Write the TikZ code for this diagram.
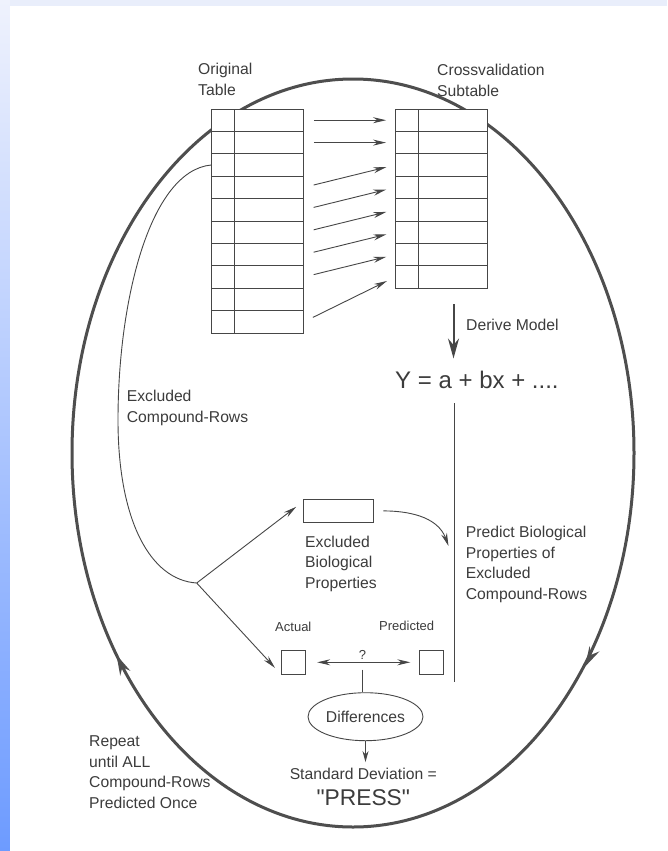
\documentclass[tikz,border=0pt]{standalone}
\usepackage{fontspec}
\setmainfont{Liberation Sans}
\usetikzlibrary{arrows.meta,shapes,positioning}
\definecolor{textgray}{HTML}{3C3C3C}
\definecolor{linegray}{HTML}{464646}
\definecolor{cyclegray}{HTML}{4E4E4E}
\definecolor{bgstrip}{HTML}{E9EEFB}
\definecolor{bgtop}{HTML}{EFF2FD}
\definecolor{bgbottom}{HTML}{6D9BFF}
\tikzstyle{line} = [draw=linegray, line width=0.9pt, -{Stealth[length=13pt,width=6pt]}]
\tikzstyle{plainline} = [draw=linegray, line width=0.9pt]
\tikzstyle{cycleline} = [draw=cyclegray, line width=3pt]
\tikzstyle{cyclehead} = [draw=cyclegray, line width=3pt, -{Stealth[length=20pt,width=11pt]}]
\tikzstyle{tabrow} = [rectangle, draw=linegray, line width=0.9pt, fill=white, minimum width=92pt, minimum height=22.4pt, inner sep=0pt, path picture={\draw[linegray, line width=0.9pt] ([xshift=22.8pt]path picture bounding box.north west) -- ([xshift=22.8pt]path picture bounding box.south west);}]
\tikzstyle{valbox} = [rectangle, draw=linegray, line width=0.9pt, minimum size=23.5pt, inner sep=0pt]
\tikzstyle{lbl} = [align=left, inner sep=0pt, text=textgray, font=\fontsize{15.7}{20.5}\selectfont]
\tikzstyle{smalllbl} = [inner sep=0pt, text=textgray, font=\fontsize{13}{15}\selectfont]

\begin{document}
\begin{tikzpicture}[x=1pt, y=1pt]
		\useasboundingbox (0,0) rectangle (667,-851);
		\fill[bgstrip] (0,0) rectangle (667,-851);
		\shade[top color=bgtop, bottom color=bgbottom] (0,0) rectangle (10,-851);
		\fill[white] (10,-6) rectangle (667,-851);
		
		\draw[cycleline] (353,-453) ellipse [x radius=281pt, y radius=374pt];
		\coordinate (rtail) at (587.8,-661.4);
		\coordinate (rtip) at (585,-666.7);
		\coordinate (ltail) at (119.1,-660.4);
		\coordinate (ltip) at (116.5,-655);
		\draw[cyclehead] (rtail) -- (rtip);
		\draw[cyclehead] (ltail) -- (ltip);
		
		\node [tabrow] (o1) at (257.5,-120.2) {};
		\foreach \i [count=\prev from 1] in {2,...,10}
			\node [tabrow, below of=o\prev, node distance=22.4pt] (o\i) {};
		\node [tabrow] (c1) at (441.5,-120.2) {};
		\foreach \i [count=\prev from 1] in {2,...,8}
			\node [tabrow, below of=c\prev, node distance=22.4pt] (c\i) {};
		\foreach \s/\t in {1/1,2/2,4/3,5/4,6/5,7/6,8/7,10/8}
			\path [line, shorten <=10pt, shorten >=9pt] (o\s.east) -- (c\t.west);
		
		\node [lbl, anchor=north west] (orig) at (198,-63.2) {Original\\Table};
		\node [lbl, anchor=north west] (cross) at (437,-64.2) {Crossvalidation\\Subtable};
		
		\coordinate (dtop) at (453.5,-304);
		\node [lbl, anchor=west] (derive) at (466,-325) {Derive Model};
		\node [lbl, anchor=west, font=\fontsize{24}{28}\selectfont] (yeq) at (395,-380) {Y = a + bx + ....};
		\path [line, line width=2pt, -{Stealth[length=20pt,width=11pt]}, shorten >=12.5pt] (dtop) -- (dtop |- yeq.north);
		\coordinate (vbot) at (454.3,-682);
		\draw [plainline, shorten <=14pt] (yeq.south -| vbot) -- (vbot);
		
		\node [lbl, anchor=north west] (exrows) at (126.7,-390.2) {Excluded\\Compound-Rows};
		\coordinate (branch) at (196.7,-583);
		\draw [plainline] (o3.west) .. controls (150,-171) and (118,-300) .. (118,-420) .. controls (118,-520) and (150,-580) .. (branch);
		
		\node [rectangle, draw=linegray, line width=0.9pt, minimum width=70pt, minimum height=23.7pt, inner sep=0pt] (exbox) at (338,-510.9) {};
		\node [lbl, anchor=north west] (exbio) at (305,-535.9) {Excluded\\Biological\\Properties};
		\path [line, shorten >=8pt] (branch) -- ([yshift=9pt]exbox.west);
		
		\coordinate (predtip) at (448.5,-546);
		\path [line, shorten <=10pt] (exbox.east) to [out=0, in=110] (predtip);
		\node [lbl, anchor=north west] (predict) at (465.7,-526.2) {Predict Biological\\Properties of\\Excluded\\Compound-Rows};
		
		\node [valbox] (act) at (293.3,-662.3) {};
		\node [valbox] (pred) at (431.5,-662.3) {};
		\node [smalllbl, above of=act, node distance=35.6pt] (actlbl) {Actual};
		\node [smalllbl, above of=pred, node distance=36.3pt, xshift=-24.8pt] (predlbl) {Predicted};
		\path [line, shorten >=9pt] (branch) -- (act.south west);
		\path [line, {Stealth[length=13pt,width=6pt]}-{Stealth[length=13pt,width=6pt]}, shorten <=11.7pt, shorten >=9pt] (act.east) -- node [smalllbl, above=2pt] (qm) {?} coordinate [midway] (mid) (pred.west);
		
		\node [lbl, ellipse, draw=linegray, line width=0.9pt, minimum width=115pt, minimum height=48pt] (diff) at (365.5,-716.7) {Differences};
		\draw [plainline] ([yshift=-7.3pt]mid) -- (mid |- diff.north);
		\node [lbl] (sd) at (363.3,-774) {Standard Deviation =};
		\path [line, -{Stealth[length=11pt,width=6pt]}, shorten >=6pt] (diff.south) -- (diff.south |- sd.north);
		\node [lbl, below of=sd, node distance=23.7pt, font=\fontsize{22.8}{26}\selectfont] (press) {\textquotedbl PRESS\textquotedbl};
		
		\node [lbl, anchor=north west] (repeat) at (89,-735.9) {Repeat\\until ALL\\Compound-Rows\\Predicted Once};
\end{tikzpicture}
\end{document}
